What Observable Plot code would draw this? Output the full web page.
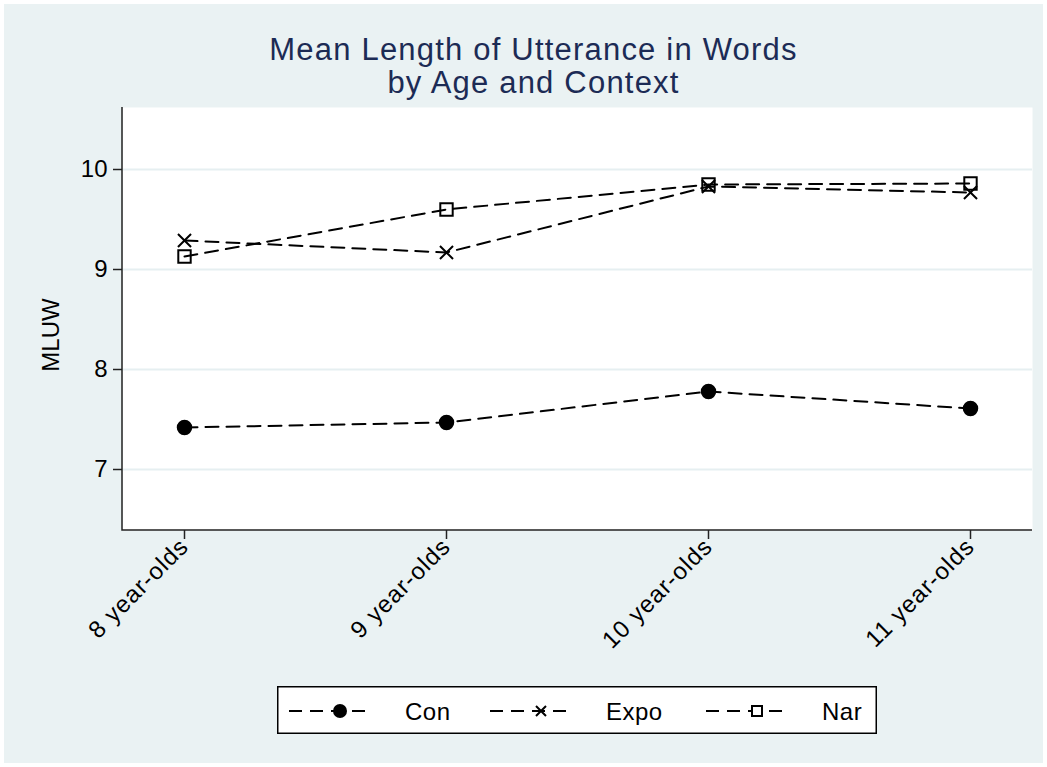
<!DOCTYPE html>
<html><head><meta charset="utf-8">
<script src="https://cdn.jsdelivr.net/npm/d3@7"></script>
<script src="https://cdn.jsdelivr.net/npm/@observablehq/plot@0.6"></script>
<style>
body{margin:0;background:#fff;font-family:"Liberation Sans",Arial,sans-serif;}
#page{position:relative;width:1047px;height:767px;background:#fff;overflow:hidden}
#bg{position:absolute;left:4px;top:4px;width:1039px;height:759px;background:#eaf2f3}
#title{position:absolute;left:10px;width:1047px;top:33px;text-align:center;font-size:31px;letter-spacing:1.2px;line-height:33px;color:#1c2b55}
#chart{position:absolute;left:0;top:0}
#legend{position:absolute;left:277px;top:686px}
#chart g[aria-label="x-axis tick label"] text{letter-spacing:1px}
</style></head><body>
<div id="page"><div id="bg"></div><div id="chart"></div><div id="title">Mean Length of Utterance in Words<br>by Age and Context</div><div id="legend"></div></div>
<script>
const ages = ["8 year-olds", "9 year-olds", "10 year-olds", "11 year-olds"];
const con  = [7.42, 7.47, 7.78, 7.61];
const expo = [9.29, 9.17, 9.83, 9.77];
const nar  = [9.13, 9.60, 9.85, 9.86];
const seriesNames = ["Con", "Expo", "Nar"];
const yTicks = [7, 8, 9, 10];
const yLabel = "MLUW";

const seriesValues = [con, expo, nar];
const data = seriesNames.flatMap((s, i) => ages.map((a, j) => ({series: s, age: a, value: seriesValues[i][j]})));
const bySeries = s => data.filter(d => d.series === s);
const dash = "13,8";

// axis lines on left and bottom of the frame
const axisLines = (index, scales, values, dims) => {
  const g = d3.create("svg:g");
  const l = dims.marginLeft, r = dims.width - dims.marginRight, t = dims.marginTop, b = dims.height - dims.marginBottom;
  g.append("path").attr("d", `M${l},${t}V${b}H${r}`).attr("fill", "none").attr("stroke", "#222").attr("stroke-width", 1.5);
  return g.node();
};

const chart = Plot.plot({
  width: 1047,
  height: 680,
  marginTop: 107,
  marginLeft: 122,
  marginRight: 15,
  marginBottom: 150,
  style: {background: "transparent", fontSize: "24px", fontFamily: "Liberation Sans, Arial, sans-serif", color: "black"},
  x: {type: "point", domain: ages, padding: 0.234},
  y: {domain: [6.39, 10.62]},
  marks: [
    Plot.frame({fill: "white", stroke: null}),
    Plot.gridY(yTicks, {stroke: "#e6eff1", strokeOpacity: 1, strokeWidth: 2}),
    axisLines,
    Plot.axisY(yTicks, {tickSize: 9, tickPadding: 6, tickFormat: d => String(d), label: yLabel, labelAnchor: "center", labelOffset: 81, labelArrow: "none", fontSize: 24, stroke: "#222", strokeWidth: 1.5}),
    Plot.axisX({tickSize: 9, tickPadding: 3, tickRotate: -45, label: null, fontSize: 24, stroke: "#222", strokeWidth: 1.5}),
    Plot.line(data, {x: "age", y: "value", z: "series", stroke: "black", strokeWidth: 2, strokeDasharray: dash}),
    Plot.dot(bySeries("Con"), {x: "age", y: "value", r: 7, fill: "black", stroke: "black"}),
    Plot.dot(bySeries("Expo"), {x: "age", y: "value", symbol: "times", r: 6, stroke: "black", strokeWidth: 2}),
    Plot.dot(bySeries("Nar"), {x: "age", y: "value", symbol: "square", r: 7, stroke: "black", fill: "white", fillOpacity: 0, strokeWidth: 2})
  ]
});
// nudge the y-axis title down slightly to match the reference
const yl = chart.querySelector('g[aria-label="y-axis label"]');
if (yl) yl.setAttribute("transform", ((yl.getAttribute("transform") || "") + " translate(0,16)").trim());
document.getElementById("chart").appendChild(chart);

// legend
const lw = 600, lh = 48;
const leg = d3.create("svg").attr("width", lw).attr("height", lh)
  .style("font-family", "Liberation Sans, Arial, sans-serif");
leg.append("rect").attr("x", 0.75).attr("y", 0.75).attr("width", lw - 1.5).attr("height", lh - 1.5)
  .attr("fill", "white").attr("stroke", "black").attr("stroke-width", 1.5);
const starts = [12, 213, 429];
seriesNames.forEach((s, i) => {
  const x0 = starts[i], cy = 25;
  leg.append("line").attr("x1", x0).attr("x2", x0 + 82).attr("y1", cy).attr("y2", cy)
    .attr("stroke", "black").attr("stroke-width", 2).attr("stroke-dasharray", "13,8");
  const mx = x0 + 51;
  if (s === "Con") leg.append("circle").attr("cx", mx).attr("cy", cy).attr("r", 7).attr("fill", "black");
  if (s === "Expo") leg.append("path").attr("d", `M${mx-5},${cy-5}L${mx+5},${cy+5}M${mx-5},${cy+5}L${mx+5},${cy-5}`).attr("stroke", "black").attr("stroke-width", 2);
  if (s === "Nar") leg.append("rect").attr("x", mx - 5).attr("y", cy - 5).attr("width", 10).attr("height", 10).attr("fill", "white").attr("stroke", "black").attr("stroke-width", 2);
  leg.append("text").attr("x", x0 + 116).attr("y", cy + 9).attr("font-size", 24).attr("letter-spacing", 0.5).text(s);
});
document.getElementById("legend").appendChild(leg.node());
</script>
</body></html>
